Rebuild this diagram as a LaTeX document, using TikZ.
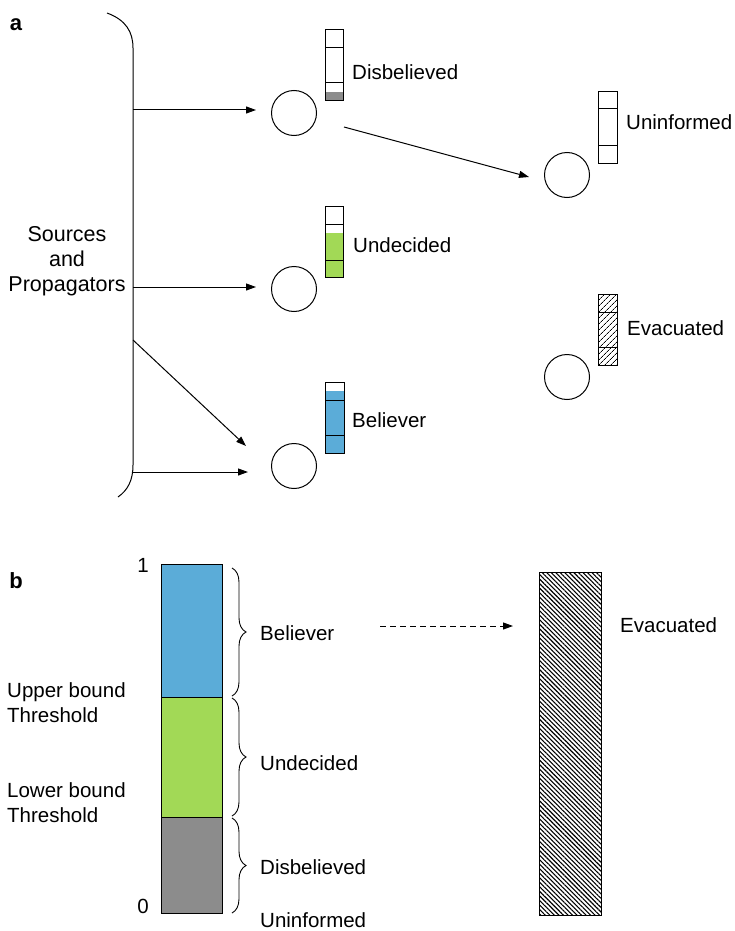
\documentclass[tikz,border=0pt]{standalone}
\usepackage{fontspec}
\setmainfont{Liberation Sans}
\usetikzlibrary{patterns,patterns.meta,decorations.pathreplacing,arrows.meta}
\definecolor{cblue}{RGB}{91,172,216}
\definecolor{cgreen}{RGB}{162,217,86}
\definecolor{cgray}{RGB}{140,140,140}
\begin{document}
\begin{tikzpicture}[x=1pt,y=-1pt,
  lbl/.style={font=\fontsize{20.5}{24}\selectfont, inner sep=0pt},
  agent/.style={circle,draw,line width=1pt,minimum size=45pt,inner sep=0pt},
  barbox/.style={draw,line width=1pt},
  arr/.style={line width=1pt,-{Triangle[length=10pt,width=7pt]}},
  brc/.style={decorate,decoration={brace,amplitude=14pt},line width=0.9pt}
]
\useasboundingbox (0,0) rectangle (735,931);
% ---------- panel a ----------
\node[lbl,font=\fontsize{22}{24}\selectfont\bfseries] (la) at (16,25) {a};
\draw[line width=1pt] (107,13) .. controls (126,20) and (133,32) .. (133,48)
   -- (133,465) .. controls (133,480) and (128,490) .. (118,497);
\node[lbl,align=center,font=\fontsize{21.5}{25}\selectfont] (src) at (67,261) {Sources\\and\\Propagators};
\coordinate (s1) at (133,110);
\coordinate (s2) at (133,287);
\coordinate (s3) at (133,340);
\coordinate (s4) at (133,472);
% circles
\node[agent] (cD) at (294,113) {};
\node[agent] (cU) at (567,175) {};
\node[agent] (cN) at (294,289) {};
\node[agent] (cE) at (567,377) {};
\node[agent] (cB) at (294,466) {};
% arrows
\coordinate (e1) at (256,110);
\coordinate (e2) at (256,287);
\coordinate (e3) at (246,446);
\coordinate (e4) at (248,472);
\draw[arr] (s1) -- (e1);
\draw[arr] (s2) -- (e2);
\draw[arr] (s3) -- (e3);
\draw[arr] (s4) -- (e4);
\coordinate (d1) at (344,127);
\coordinate (d2) at (529,177);
\draw[arr] (d1) -- (d2);
% bar Disbelieved
\fill[cgray] (325,92) rectangle (343,101);
\draw[barbox] (325,30) rectangle (343,101);
\draw[line width=1pt] (325,48) -- (343,48) (325,83) -- (343,83);
\node[lbl,anchor=west] (tD) at (352,72) {Disbelieved};
% bar Uninformed
\draw[barbox] (598,92) rectangle (617,163);
\draw[line width=1pt] (598,109) -- (617,109) (598,145) -- (617,145);
\node[lbl,anchor=west] (tU) at (626,122) {Uninformed};
% bar Undecided
\fill[cgreen] (325,233) rectangle (343,277);
\draw[barbox] (325,206) rectangle (343,277);
\draw[line width=1pt] (325,224) -- (343,224) (325,260) -- (343,260);
\node[lbl,anchor=west] (tN) at (353,245) {Undecided};
% bar Evacuated
\fill[pattern={Lines[angle=45,distance=4pt,line width=0.8pt]}] (598,294) rectangle (617,365);
\draw[barbox] (598,294) rectangle (617,365);
\draw[line width=1pt] (598,312) -- (617,312) (598,347) -- (617,347);
\node[lbl,anchor=west] (tE) at (627,328) {Evacuated};
% bar Believer
\fill[cblue] (325,391) rectangle (344,453);
\draw[barbox] (325,382) rectangle (344,453);
\draw[line width=1pt] (325,400) -- (344,400) (325,435) -- (344,435);
\node[lbl,anchor=west] (tB) at (352,420) {Believer};
% ---------- panel b ----------
\node[lbl,font=\fontsize{22}{24}\selectfont\bfseries] (lb) at (16,581) {b};
\fill[cblue] (161,564) rectangle (222,697);
\fill[cgreen] (161,697) rectangle (222,817);
\fill[cgray] (161,817) rectangle (222,913);
\draw[barbox] (161,564) rectangle (222,913);
\draw[line width=1pt] (161,697) -- (222,697) (161,817) -- (222,817);
\node[lbl] (one) at (143,565) {1};
\node[lbl] (zero) at (143,906) {0};
\node[lbl,anchor=west,align=left,font=\fontsize{20.5}{25}\selectfont] (ub) at (7,703) {Upper bound\\Threshold};
\node[lbl,anchor=west,align=left,font=\fontsize{20.5}{25}\selectfont] (lob) at (7,803) {Lower bound\\Threshold};
\draw[brc] (232,568) -- (232,696);
\draw[brc] (232,698) -- (232,816);
\draw[brc] (232,818) -- (232,913);
\node[lbl,anchor=west] (bB) at (260,633) {Believer};
\node[lbl,anchor=west] (bN) at (260,763) {Undecided};
\node[lbl,anchor=west] (bD) at (260,867) {Disbelieved};
\node[lbl,anchor=west] (bU) at (260,920) {Uninformed};
\coordinate (da) at (380,626);
\coordinate (db) at (513,626);
\draw[arr,dashed,dash pattern=on 6pt off 4pt] (da) -- (db);
\fill[pattern={Lines[angle=-45,distance=3.2pt,line width=1.1pt]}] (539,572) rectangle (601,915);
\draw[barbox] (539,572) rectangle (601,915);
\node[lbl,anchor=west] (bE) at (620,625) {Evacuated};
\end{tikzpicture}
\end{document}
